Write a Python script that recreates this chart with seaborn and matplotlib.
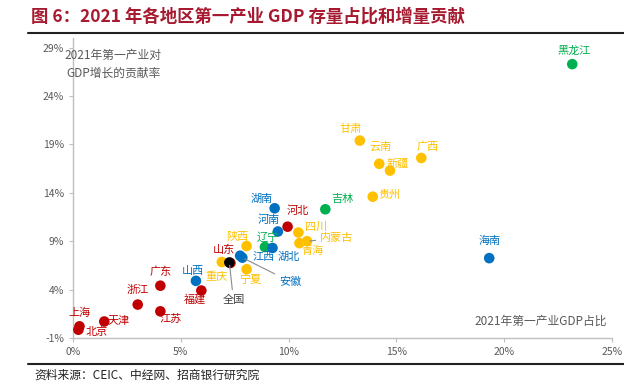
import numpy as np
import pandas as pd
import matplotlib
matplotlib.use("Agg")
import matplotlib.pyplot as plt
from matplotlib.lines import Line2D
from matplotlib.ticker import FuncFormatter
import seaborn as sns

# --- data ---
regions = ['黑龙江', '甘肃', '云南', '新疆', '广西', '贵州', '吉林', '湖南', '河南', '河北',
           '四川', '内蒙古', '青海', '辽宁', '湖北', '陕西', '江西', '安徽', '山东', '重庆',
           '宁夏', '山西', '福建', '广东', '浙江', '江苏', '天津', '上海', '北京', '海南', '全国']
gdp_share = [23.15, 13.3, 14.2, 14.7, 16.15, 13.9, 11.7, 9.35, 9.5, 9.95,
             10.45, 10.85, 10.5, 8.9, 9.25, 8.05, 7.75, 7.85, 7.3, 6.9,
             8.05, 5.7, 5.95, 4.05, 3.0, 4.05, 1.45, 0.3, 0.25, 19.3, 7.25]
contribution = [27.3, 19.4, 17.0, 16.3, 17.6, 13.6, 12.3, 12.4, 10.0, 10.5,
                9.9, 9.0, 8.8, 8.4, 8.3, 8.5, 7.5, 7.3, 6.75, 6.85,
                6.1, 4.9, 3.9, 4.4, 2.45, 1.75, 0.7, 0.2, -0.15, 7.25, 6.8]
group = ['东北', '西部', '西部', '西部', '西部', '西部', '东北', '中部', '中部', '东部',
         '西部', '西部', '西部', '东北', '中部', '西部', '中部', '中部', '东部', '西部',
         '西部', '中部', '东部', '东部', '东部', '东部', '东部', '东部', '东部', '中部', '全国']

palette = {'东部': '#C00000', '中部': '#0070C0', '西部': '#FFC000', '东北': '#00B050', '全国': '#000000'}

# label offsets in pixels (dx, dy), and which labels get a leader line
label_offsets = {
    '黑龙江': (2, 13), '甘肃': (-9, 12), '云南': (1, 17), '新疆': (8, 7), '广西': (6, 11),
    '贵州': (17, 2), '吉林': (17, 10), '湖南': (-13, 10), '河南': (-9, 12), '河北': (10, 16),
    '四川': (18, 6), '内蒙古': (30, 3), '青海': (13, -8), '辽宁': (3, 10), '湖北': (16, -9),
    '陕西': (-9, 9), '江西': (24, -1), '安徽': (48, -24), '山东': (-7, 13), '重庆': (-5, -15),
    '宁夏': (4, -10), '山西': (-3, 10), '福建': (-6, -9), '广东': (0, 14), '浙江': (0, 15),
    '江苏': (10, -7), '天津': (14, 1), '上海': (0, 14), '北京': (18, -2), '海南': (0, 17),
    '全国': (4, -37),
}
leader = ['内蒙古', '安徽', '全国']

df = pd.DataFrame({'region': regions, 'share': gdp_share, 'contrib': contribution, 'group': group})

sns.set_style('white')
plt.rcParams['font.family'] = ['Noto Sans CJK SC', 'DejaVu Sans']
plt.rcParams['axes.unicode_minus'] = False

fig = plt.figure(figsize=(6.24, 3.88), dpi=100)
ax = fig.add_axes([0.117, 0.129, 0.864, 0.773])

sns.scatterplot(data=df, x='share', y='contrib', hue='group', palette=palette,
                s=58, edgecolor='none', legend=False, ax=ax, zorder=3)

for _, r in df.iterrows():
    dx, dy = label_offsets[r['region']]
    col = '#404040' if r['group'] == '全国' else palette[r['group']]
    kw = {}
    if r['region'] in leader:
        kw['arrowprops'] = dict(arrowstyle='-', color='#8C8C8C', lw=0.8, shrinkA=1, shrinkB=2)
    ax.annotate(r['region'], (r['share'], r['contrib']), xytext=(dx, dy),
                textcoords='offset pixels', ha='center', va='center',
                fontsize=8, color=col, **kw)

ax.set_xlim(0, 25)
ax.set_ylim(-1, 30)
ax.set_xticks([0, 5, 10, 15, 20, 25])
ax.set_yticks([-1, 4, 9, 14, 19, 24, 29])
ax.xaxis.set_major_formatter(FuncFormatter(lambda v, p: f'{v:.0f}%'))
ax.yaxis.set_major_formatter(FuncFormatter(lambda v, p: f'{v:.0f}%'))
ax.tick_params(axis='both', labelsize=7.5, labelcolor='#595959', color='#BFBFBF',
               length=3, width=0.8, direction='out', bottom=True, left=True)
ax.set_xlabel('')
ax.set_ylabel('')
sns.despine(ax=ax)
for s in ['left', 'bottom']:
    ax.spines[s].set_color('#BFBFBF')
    ax.spines[s].set_linewidth(1.0)

ax.text(0.075, 0.965, '2021年第一产业对\nGDP增长的贡献率', transform=ax.transAxes,
        ha='center', va='top', fontsize=8.5, color='#595959', linespacing=1.5)
ax.text(0.99, 0.055, '2021年第一产业GDP占比', transform=ax.transAxes,
        ha='right', va='center', fontsize=8.5, color='#595959')

# title and source
fig.text(0.05, 0.958, '图 6：2021 年各地区第一产业 GDP 存量占比和增量贡献',
         fontsize=12.5, fontweight='bold', color='#A6192E', ha='left', va='center')
fig.add_artist(Line2D([0.045, 1.0], [0.915, 0.915], color='#222222', lw=1.5))
fig.add_artist(Line2D([0.045, 1.0], [0.062, 0.062], color='#222222', lw=1.5))
fig.text(0.055, 0.033, '资料来源：CEIC、中经网、招商银行研究院', fontsize=8.5,
         color='#222222', ha='left', va='center')

fig.savefig('out.png', dpi=100)
